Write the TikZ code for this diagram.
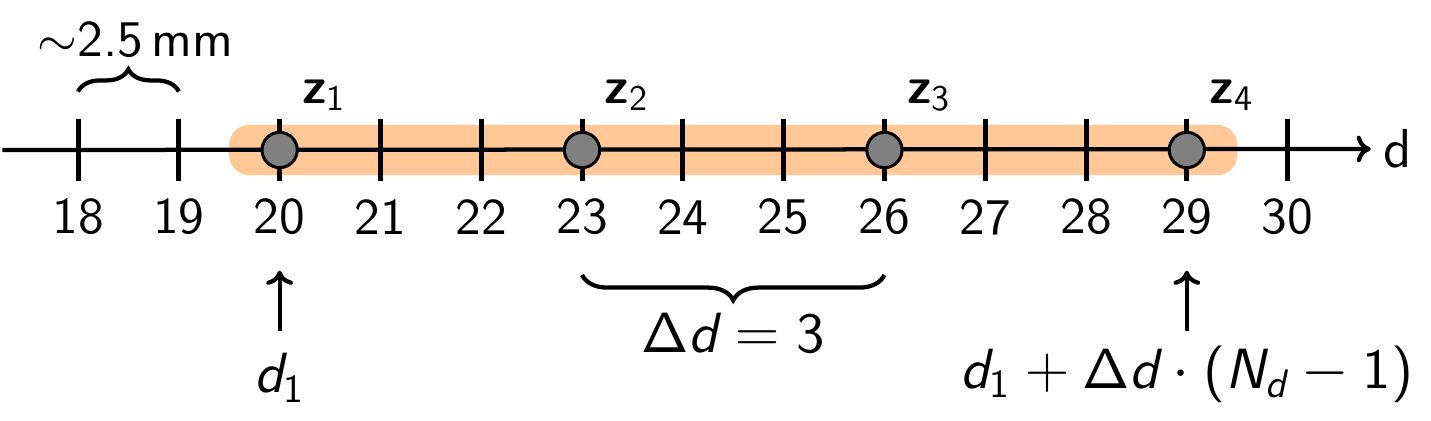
\documentclass[tikz,border=0pt]{standalone}
\usepackage{amsmath}
\usepackage{fontspec}
\setsansfont{lmsans10-regular.otf}[BoldFont=lmsans10-bold.otf,ItalicFont=lmsans10-oblique.otf]
\usetikzlibrary{arrows.meta,decorations.pathreplacing,positioning}
\definecolor{bandorange}{RGB}{255,200,150}
\font\deltafont=cmss10 at 16pt
\newcommand{\sv}[1]{\text{\sffamily\itshape #1}}
\newcommand{\su}[1]{\text{\sffamily #1}}
\newcommand{\sDelta}{\text{\deltafont\char1}}
\tikzset{
    axtick/.style={line width=1.4pt},
    sample/.style={circle,draw=black,fill=gray,line width=0.85pt,minimum size=0.35cm,inner sep=0pt},
    pointer/.style={line width=1.2pt,-{To[length=4pt,width=7.5pt]}},
    curly/.style={line width=1.2pt,decorate,decoration={brace,amplitude=#1}},
    biglabel/.style={font=\sffamily\fontsize{16}{19}\selectfont},
}

\begin{document}
\begin{tikzpicture}[every node/.style={font=\sffamily\fontsize{14.5}{17}\selectfont}]
                \useasboundingbox (-0.774,-2.679) rectangle (13.422,1.488);
                \fill[bandorange,rounded corners=0.2cm] (1.5,-0.25) rectangle (11.5,0.25);

                \node (dax) at (13.09,0.01) {\fontsize{15.5}{18}\selectfont d};
                \coordinate (axstart) at (-0.75,0);
                \draw[pointer] (axstart) -- (dax.west);

                \foreach \n in {18,...,30} {
                    \draw[axtick] (\n-18,0.31) -- (\n-18,-0.31);
                    \node (l\n) at (\n-18,-0.665) {\n};
                }

                \foreach[count=\k] \n in {20,23,26,29} {
                    \node[sample] (z\k) at (\n-18,0) {};
                    \node[anchor=base west,inner sep=0pt] (zl\k) at ([shift={(0.22,0.466)}]z\k.center) {$\text{\bfseries z}_{\su{\k}}$};
                }

                \draw[curly=0.22cm] (0,0.58) -- (1,0.58);
                \node (mm) at (0.57,1.09) {$\sim$2.5\,mm};

                \draw[curly=0.25cm] (8,-1.24) -- (5,-1.24);
                \node[biglabel] (dd) at (6.5,-1.82) {$\sDelta\sv{d} = \su{3}$};

                \node[biglabel] (dfirst) at (2,-2.26) {$\sv{d}_{\su{1}}$};
                \node[biglabel] (dlast) at (11,-2.227) {$\sv{d}_{\su{1}} + \sDelta\sv{d} \cdot \mathopen{\su{(}}\sv{N}_{\sv{d}} - \su{1}\mathclose{\su{)}}$};
                \draw[pointer,shorten <=0.10cm,shorten >=0.23cm] (dfirst.north) -- (l20.south);
                \draw[pointer,shorten <=0.03cm,shorten >=0.23cm] (dlast.north) -- (l29.south);
\end{tikzpicture}
\end{document}
